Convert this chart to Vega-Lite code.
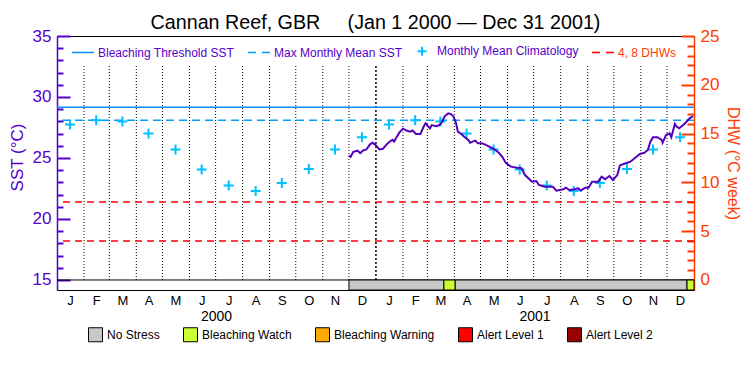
{
  "$schema": "https://vega.github.io/schema/vega-lite/v6.json",
  "width": 637,
  "height": 254,
  "autosize": "none",
  "padding": {"left": 57, "top": 36, "right": 56, "bottom": 85},
  "background": "white",
  "title": {"text": "Cannan Reef, GBR\u00a0\u00a0\u00a0\u00a0\u00a0(Jan 1 2000 — Dec 31 2001)", "font": "Liberation Sans", "fontSize": 19.7, "fontWeight": "normal", "color": "black", "anchor": "middle", "offset": -6},
  "config": {"view": {"stroke": "black", "strokeWidth": 1}, "font": "Liberation Sans", "axis": {"grid": false, "labelOverlap": false, "labelBound": false}},
  "datasets": {
    "sst": [
      {"date": "2000-12-01", "sst": 25.2}, {"date": "2000-12-03", "sst": 25.1}, {"date": "2000-12-06", "sst": 25.5}, {"date": "2000-12-11", "sst": 25.6},
      {"date": "2000-12-14", "sst": 25.4}, {"date": "2000-12-17", "sst": 25.6}, {"date": "2000-12-21", "sst": 25.7}, {"date": "2000-12-25", "sst": 26.1},
      {"date": "2000-12-28", "sst": 26.25}, {"date": "2000-12-31", "sst": 26.1}, {"date": "2001-01-05", "sst": 25.7}, {"date": "2001-01-09", "sst": 25.75},
      {"date": "2001-01-13", "sst": 26.1}, {"date": "2001-01-17", "sst": 26.35}, {"date": "2001-01-20", "sst": 26.5}, {"date": "2001-01-22", "sst": 26.35},
      {"date": "2001-01-25", "sst": 26.75}, {"date": "2001-01-28", "sst": 27.1}, {"date": "2001-02-01", "sst": 27.4}, {"date": "2001-02-05", "sst": 27.25},
      {"date": "2001-02-09", "sst": 27.15}, {"date": "2001-02-12", "sst": 27.25}, {"date": "2001-02-16", "sst": 26.97}, {"date": "2001-02-21", "sst": 26.97},
      {"date": "2001-02-25", "sst": 27.6}, {"date": "2001-02-27", "sst": 27.85}, {"date": "2001-03-02", "sst": 27.6}, {"date": "2001-03-04", "sst": 27.43},
      {"date": "2001-03-06", "sst": 27.7}, {"date": "2001-03-11", "sst": 27.6}, {"date": "2001-03-15", "sst": 27.7}, {"date": "2001-03-18", "sst": 27.97},
      {"date": "2001-03-21", "sst": 28.44}, {"date": "2001-03-25", "sst": 28.66}, {"date": "2001-03-28", "sst": 28.6}, {"date": "2001-03-31", "sst": 28.39},
      {"date": "2001-04-03", "sst": 27.84}, {"date": "2001-04-05", "sst": 27.16}, {"date": "2001-04-09", "sst": 26.97}, {"date": "2001-04-13", "sst": 26.7},
      {"date": "2001-04-17", "sst": 26.48}, {"date": "2001-04-19", "sst": 26.25}, {"date": "2001-04-22", "sst": 26.34}, {"date": "2001-04-25", "sst": 26.42},
      {"date": "2001-04-28", "sst": 26.2}, {"date": "2001-05-02", "sst": 26.2}, {"date": "2001-05-06", "sst": 26.12}, {"date": "2001-05-11", "sst": 25.93},
      {"date": "2001-05-17", "sst": 25.71}, {"date": "2001-05-22", "sst": 25.43}, {"date": "2001-05-26", "sst": 25.1}, {"date": "2001-05-30", "sst": 24.6},
      {"date": "2001-06-02", "sst": 24.43}, {"date": "2001-06-05", "sst": 24.29}, {"date": "2001-06-12", "sst": 24.2}, {"date": "2001-06-17", "sst": 24.16},
      {"date": "2001-06-21", "sst": 23.6}, {"date": "2001-06-25", "sst": 23.34}, {"date": "2001-06-29", "sst": 23.06}, {"date": "2001-07-04", "sst": 23.11},
      {"date": "2001-07-07", "sst": 22.79}, {"date": "2001-07-14", "sst": 22.65}, {"date": "2001-07-23", "sst": 22.65}, {"date": "2001-07-27", "sst": 22.32},
      {"date": "2001-07-31", "sst": 22.38}, {"date": "2001-08-04", "sst": 22.43}, {"date": "2001-08-07", "sst": 22.57}, {"date": "2001-08-11", "sst": 22.38},
      {"date": "2001-08-17", "sst": 22.43}, {"date": "2001-08-21", "sst": 22.52}, {"date": "2001-08-24", "sst": 22.32}, {"date": "2001-08-29", "sst": 22.57},
      {"date": "2001-09-02", "sst": 22.57}, {"date": "2001-09-06", "sst": 23.06}, {"date": "2001-09-13", "sst": 23.06}, {"date": "2001-09-17", "sst": 23.47},
      {"date": "2001-09-21", "sst": 23.25}, {"date": "2001-09-26", "sst": 23.52}, {"date": "2001-09-30", "sst": 23.2}, {"date": "2001-10-05", "sst": 23.6},
      {"date": "2001-10-08", "sst": 24.39}, {"date": "2001-10-13", "sst": 24.53}, {"date": "2001-10-20", "sst": 24.7}, {"date": "2001-10-27", "sst": 25.1},
      {"date": "2001-10-31", "sst": 25.33}, {"date": "2001-11-05", "sst": 25.43}, {"date": "2001-11-09", "sst": 25.66}, {"date": "2001-11-12", "sst": 26.34},
      {"date": "2001-11-15", "sst": 26.7}, {"date": "2001-11-20", "sst": 26.7}, {"date": "2001-11-25", "sst": 26.48}, {"date": "2001-11-26", "sst": 26.25},
      {"date": "2001-11-30", "sst": 26.89}, {"date": "2001-12-04", "sst": 27.02}, {"date": "2001-12-06", "sst": 26.7}, {"date": "2001-12-10", "sst": 27.79},
      {"date": "2001-12-12", "sst": 27.57}, {"date": "2001-12-15", "sst": 27.43}, {"date": "2001-12-21", "sst": 27.79}, {"date": "2001-12-27", "sst": 28.25},
      {"date": "2001-12-31", "sst": 28.44}
    ],
    "clim": [
      {"date": "2000-01-16", "sst": 27.75}, {"date": "2000-02-15", "sst": 28.1}, {"date": "2000-03-16", "sst": 28.0}, {"date": "2000-04-15", "sst": 27.0},
      {"date": "2000-05-16", "sst": 25.7}, {"date": "2000-06-15", "sst": 24.05}, {"date": "2000-07-16", "sst": 22.75}, {"date": "2000-08-16", "sst": 22.3},
      {"date": "2000-09-15", "sst": 22.95}, {"date": "2000-10-16", "sst": 24.1}, {"date": "2000-11-15", "sst": 25.7}, {"date": "2000-12-16", "sst": 26.7},
      {"date": "2001-01-16", "sst": 27.75}, {"date": "2001-02-15", "sst": 28.1}, {"date": "2001-03-16", "sst": 28.0}, {"date": "2001-04-15", "sst": 27.0},
      {"date": "2001-05-16", "sst": 25.7}, {"date": "2001-06-15", "sst": 24.05}, {"date": "2001-07-16", "sst": 22.75}, {"date": "2001-08-16", "sst": 22.3},
      {"date": "2001-09-15", "sst": 22.95}, {"date": "2001-10-16", "sst": 24.1}, {"date": "2001-11-15", "sst": 25.7}, {"date": "2001-12-16", "sst": 26.7}
    ],
    "months": [
      {"date": "2000-02-01"}, {"date": "2000-03-01"}, {"date": "2000-04-01"}, {"date": "2000-05-01"}, {"date": "2000-06-01"}, {"date": "2000-07-01"},
      {"date": "2000-08-01"}, {"date": "2000-09-01"}, {"date": "2000-10-01"}, {"date": "2000-11-01"}, {"date": "2000-12-01"},
      {"date": "2001-02-01"}, {"date": "2001-03-01"}, {"date": "2001-04-01"}, {"date": "2001-05-01"}, {"date": "2001-06-01"}, {"date": "2001-07-01"},
      {"date": "2001-08-01"}, {"date": "2001-09-01"}, {"date": "2001-10-01"}, {"date": "2001-11-01"}, {"date": "2001-12-01"}
    ],
    "years": [{"date": "2001-01-01"}],
    "base": [{"sst": 15}],
    "threshold": [{"sst": 29.16}],
    "mmm": [{"sst": 28.1}],
    "status": [
      {"start": "2000-12-01", "end": "2001-03-20", "status": "No Stress"},
      {"start": "2001-03-20", "end": "2001-04-02", "status": "Bleaching Watch"},
      {"start": "2001-04-02", "end": "2001-12-24", "status": "No Stress"},
      {"start": "2001-12-24", "end": "2002-01-01", "status": "Bleaching Watch"}
    ],
    "dhw": [{"dhw": 4}, {"dhw": 8}]
  },
  "layer": [
    {
      "data": {"name": "months"},
      "mark": {"type": "rule", "color": "black", "strokeWidth": 1, "strokeDash": [1, 2]},
      "encoding": {
        "x": {
          "field": "date", "type": "temporal",
          "scale": {"type": "utc", "domain": [{"year": 2000, "month": 1, "date": 1, "utc": true}, {"year": 2002, "month": 1, "date": 1, "utc": true}]},
          "axis": {
            "orient": "bottom", "title": null, "ticks": false, "domain": false, "grid": false, "labelFlush": false, "labelOverlap": false,
            "values": [
              {"year": 2000, "month": 1, "date": 16, "utc": true}, {"year": 2000, "month": 2, "date": 15, "utc": true}, {"year": 2000, "month": 3, "date": 16, "utc": true},
              {"year": 2000, "month": 4, "date": 15, "utc": true}, {"year": 2000, "month": 5, "date": 16, "utc": true}, {"year": 2000, "month": 6, "date": 15, "utc": true},
              {"year": 2000, "month": 7, "date": 16, "utc": true}, {"year": 2000, "month": 8, "date": 16, "utc": true}, {"year": 2000, "month": 9, "date": 15, "utc": true},
              {"year": 2000, "month": 10, "date": 16, "utc": true}, {"year": 2000, "month": 11, "date": 15, "utc": true}, {"year": 2000, "month": 12, "date": 16, "utc": true},
              {"year": 2001, "month": 1, "date": 16, "utc": true}, {"year": 2001, "month": 2, "date": 15, "utc": true}, {"year": 2001, "month": 3, "date": 16, "utc": true},
              {"year": 2001, "month": 4, "date": 15, "utc": true}, {"year": 2001, "month": 5, "date": 16, "utc": true}, {"year": 2001, "month": 6, "date": 15, "utc": true},
              {"year": 2001, "month": 7, "date": 16, "utc": true}, {"year": 2001, "month": 8, "date": 16, "utc": true}, {"year": 2001, "month": 9, "date": 15, "utc": true},
              {"year": 2001, "month": 10, "date": 16, "utc": true}, {"year": 2001, "month": 11, "date": 15, "utc": true}, {"year": 2001, "month": 12, "date": 16, "utc": true}
            ],
            "labelExpr": "substring(utcFormat(datum.value, '%b'), 0, 1)",
            "labelFontSize": 13, "labelColor": "black", "labelPadding": 4
          }
        },
        "y": {
          "datum": 15, "type": "quantitative",
          "scale": {"domain": [14.18, 35], "nice": false, "zero": false},
          "axis": {
            "orient": "left", "title": "SST (°C)", "titleColor": "#5500cc", "titleFontSize": 17, "titleFontWeight": "normal", "titlePadding": 6, "titleY": 121,
            "values": [15, 16, 17, 18, 19, 20, 21, 22, 23, 24, 25, 26, 27, 28, 29, 30, 31, 32, 33, 34, 35],
            "labelExpr": "datum.value % 5 === 0 ? datum.label : ''",
            "labelColor": "#5500cc", "labelFontSize": 17, "labelOverlap": false, "labelFlush": false, "labelPadding": 19,
            "tickColor": "#5500cc", "tickWidth": 2,
            "tickSize": {"condition": {"test": "datum.value % 5 === 0", "value": -13}, "value": -6},
            "domainColor": "#5500cc", "domainWidth": 1.5, "grid": false
          }
        },
        "y2": {"datum": 32.6}
      }
    },
    {
      "data": {"name": "years"},
      "mark": {"type": "rule", "color": "black", "strokeWidth": 1.5, "strokeDash": [2, 2]},
      "encoding": {
        "x": {"field": "date", "type": "temporal", "axis": null,
          "scale": {"type": "utc", "domain": [{"year": 2000, "month": 1, "date": 1, "utc": true}, {"year": 2002, "month": 1, "date": 1, "utc": true}]}},
        "y": {"datum": 15, "type": "quantitative", "axis": null, "scale": {"domain": [14.18, 35], "nice": false, "zero": false}},
        "y2": {"datum": 32.6}
      }
    },
    {
      "data": {"name": "base"},
      "mark": {"type": "rule", "color": "black", "strokeWidth": 1},
      "encoding": {"y": {"field": "sst", "type": "quantitative", "axis": null, "scale": {"domain": [14.18, 35], "nice": false, "zero": false}}}
    },
    {
      "data": {"name": "threshold"},
      "mark": {"type": "rule", "strokeWidth": 1.5},
      "encoding": {
        "y": {"field": "sst", "type": "quantitative", "axis": null, "scale": {"domain": [14.18, 35], "nice": false, "zero": false}},
        "color": {
          "datum": "Bleaching Threshold SST", "type": "nominal",
          "scale": {"domain": ["Bleaching Threshold SST", "Max Monthly Mean SST", "Monthly Mean Climatology", "4, 8 DHWs"], "range": ["#0a8cff", "#00a0ff", "#00c0ff", "#ff0000"]},
          "legend": {
            "orient": "none", "legendX": 20, "legendY": 9, "direction": "horizontal", "title": null,
            "symbolSize": 484, "symbolStrokeWidth": 1.5, "labelFontSize": 12, "labelColor": "#5500cc", "labelOffset": 9, "columnPadding": 10,
            "encode": {
              "symbols": {"update": {
                "shape": {"signal": "datum.label === 'Monthly Mean Climatology' ? 'M-1,0L1,0M0,-1L0,1' : 'stroke'"},
                "strokeDash": {"signal": "(datum.label === 'Max Monthly Mean SST' || datum.label === '4, 8 DHWs') ? [8, 6] : [1, 0]"},
                "size": {"signal": "datum.label === 'Monthly Mean Climatology' ? 81 : 484"},
                "strokeWidth": {"signal": "datum.label === 'Monthly Mean Climatology' ? 2 : 1.5"},
                "stroke": {"signal": "datum.label === 'Bleaching Threshold SST' ? '#0a8cff' : datum.label === 'Max Monthly Mean SST' ? '#00a0ff' : datum.label === 'Monthly Mean Climatology' ? '#00c0ff' : '#ff2000'"},
                "fill": {"value": "transparent"},
                "opacity": {"value": 1}
              }},
              "labels": {"update": {"fill": {"signal": "datum.label === '4, 8 DHWs' ? '#ff3c00' : '#5500cc'"}}}
            }
          }
        }
      }
    },
    {
      "data": {"name": "mmm"},
      "mark": {"type": "rule", "strokeWidth": 1.5, "strokeDash": [8, 5], "color": "#00a0ff"},
      "encoding": {
        "y": {"field": "sst", "type": "quantitative", "axis": null, "scale": {"domain": [14.18, 35], "nice": false, "zero": false}}
      }
    },
    {
      "data": {"name": "clim"},
      "mark": {"type": "point", "shape": "M-1,0L1,0M0,-1L0,1", "filled": false, "size": 100, "strokeWidth": 2, "opacity": 1, "color": "#00c0ff"},
      "encoding": {
        "x": {"field": "date", "type": "temporal", "axis": null,
          "scale": {"type": "utc", "domain": [{"year": 2000, "month": 1, "date": 1, "utc": true}, {"year": 2002, "month": 1, "date": 1, "utc": true}]}},
        "y": {"field": "sst", "type": "quantitative", "axis": null, "scale": {"domain": [14.18, 35], "nice": false, "zero": false}}
      }
    },
    {
      "data": {"name": "sst"},
      "mark": {"type": "line", "color": "#5500bb", "strokeWidth": 2},
      "encoding": {
        "x": {"field": "date", "type": "temporal", "axis": null,
          "scale": {"type": "utc", "domain": [{"year": 2000, "month": 1, "date": 1, "utc": true}, {"year": 2002, "month": 1, "date": 1, "utc": true}]}},
        "y": {"field": "sst", "type": "quantitative", "axis": null, "scale": {"domain": [14.18, 35], "nice": false, "zero": false}}
      }
    },
    {
      "data": {"name": "dhw"},
      "mark": {"type": "rule", "color": "#ff0000", "strokeWidth": 1.5, "strokeDash": [7, 5]},
      "encoding": {
        "y": {
          "field": "dhw", "type": "quantitative",
          "scale": {"domain": [-1.025, 25], "nice": false, "zero": false},
          "axis": {
            "orient": "right", "title": "DHW (°C week)", "titleColor": "#ff3c00", "titleFontSize": 16, "titleFontWeight": "normal", "titlePadding": 6,
            "values": [0, 1, 2, 3, 4, 5, 6, 7, 8, 9, 10, 11, 12, 13, 14, 15, 16, 17, 18, 19, 20, 21, 22, 23, 24, 25],
            "labelExpr": "datum.value % 5 === 0 ? datum.label : ''",
            "labelColor": "#ff3c00", "labelFontSize": 17, "labelOverlap": false, "labelFlush": false, "labelPadding": 19,
            "tickColor": "#ff3c00", "tickWidth": 2,
            "tickSize": {"condition": {"test": "datum.value % 5 === 0", "value": -13}, "value": -7},
            "domainColor": "#ff3c00", "domainWidth": 1.5, "grid": false
          }
        }
      }
    },
    {
      "data": {"name": "status"},
      "mark": {"type": "rect", "stroke": "black", "strokeWidth": 1},
      "encoding": {
        "x": {
          "field": "start", "type": "temporal",
          "scale": {"type": "utc", "domain": [{"year": 2000, "month": 1, "date": 1, "utc": true}, {"year": 2002, "month": 1, "date": 1, "utc": true}]},
          "axis": {
            "orient": "bottom", "title": null, "ticks": false, "domain": false, "grid": false, "labelFlush": false, "labelOverlap": false,
            "values": [{"year": 2000, "month": 7, "date": 1, "hours": 12, "utc": true}, {"year": 2001, "month": 7, "date": 2, "utc": true}],
            "labelExpr": "utcFormat(datum.value, '%Y')",
            "labelFontSize": 14, "labelColor": "black", "labelPadding": 19
          }
        },
        "x2": {"field": "end"},
        "y": {"datum": 14.18, "type": "quantitative", "scale": {"domain": [14.18, 35], "nice": false, "zero": false}, "axis": null},
        "y2": {"datum": 15},
        "color": {
          "field": "status", "type": "nominal",
          "scale": {"domain": ["No Stress", "Bleaching Watch", "Bleaching Warning", "Alert Level 1", "Alert Level 2"], "range": ["#c8c8c8", "#ccff33", "#ffaa00", "#ff0000", "#990000"]},
          "legend": {
            "orient": "none", "legendX": 31, "legendY": 291, "direction": "horizontal", "title": null,
            "symbolType": "square", "symbolSize": 196, "symbolStrokeColor": "black", "symbolStrokeWidth": 1, "symbolOpacity": 1,
            "labelFontSize": 12, "labelColor": "black", "labelOffset": 4, "columnPadding": 21
          }
        }
      }
    }
  ],
  "resolve": {"scale": {"x": "independent", "y": "independent", "color": "independent"}}
}
